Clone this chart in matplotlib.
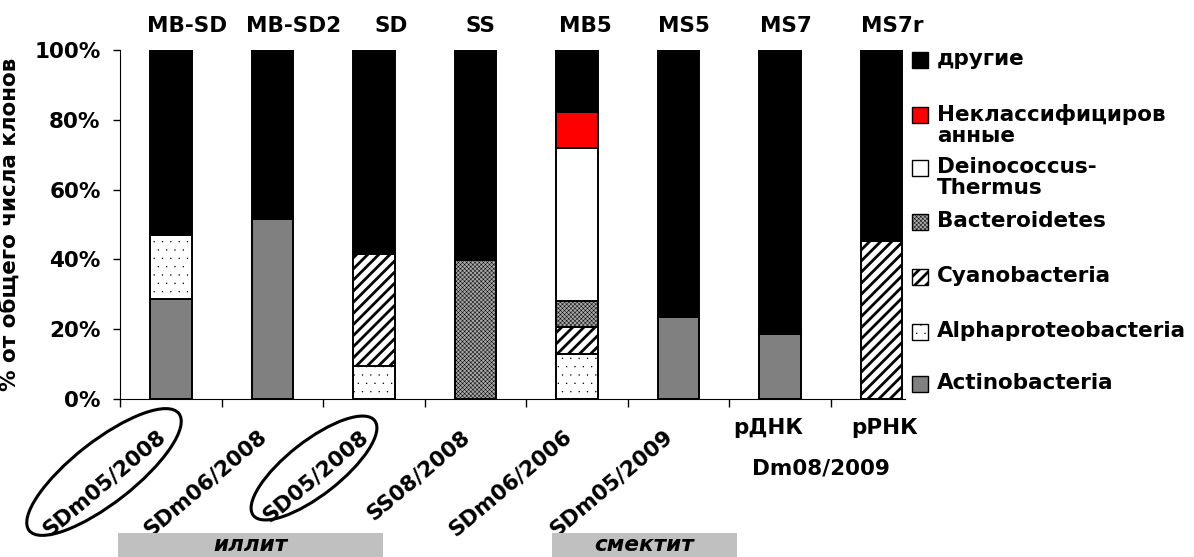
import numpy as np
import matplotlib
matplotlib.use('Agg')
import matplotlib.pyplot as plt
import matplotlib.hatch
from matplotlib.patches import Rectangle, Ellipse
from matplotlib.transforms import IdentityTransform, blended_transform_factory

# данные (% от общего числа клонов)
groups = ['MB-SD', 'MB-SD2', 'SD', 'SS', 'MB5', 'MS5', 'MS7', 'MS7r']
samples = ['SDm05/2008', 'SDm06/2008', 'SD05/2008', 'SS08/2008',
           'SDm06/2006', 'SDm05/2009', 'рДНК', 'рРНК']
actino = [28.7, 51.6, 0, 0, 0, 23.6, 18.5, 0]
alpha = [18.3, 0, 9.5, 0, 12.8, 0, 0, 0]
cyano = [0, 0, 32.0, 0, 7.7, 0, 0, 45.4]
bactero = [0, 0, 0, 39.8, 7.7, 0, 0, 0]
deino = [0, 0, 0, 0, 43.6, 0, 0, 0]
unclass = [0, 0, 0, 0, 10.3, 0, 0, 0]
others = [53.0, 48.4, 58.5, 60.2, 17.9, 76.4, 81.5, 54.6]

legend_names = ['другие', 'Неклассифициров\nанные', 'Deinococcus-\nThermus',
                'Bacteroidetes', 'Cyanobacteria', 'Alphaproteobacteria', 'Actinobacteria']

# мелкие точки, как в Excel
matplotlib.hatch.SmallFilledCircles.size = 0.035

plt.rcParams['font.family'] = 'DejaVu Sans'
plt.rcParams['font.weight'] = 'bold'
FS = 15.5

W, H = 1194, 557
fig = plt.figure(figsize=(W / 100, H / 100), dpi=100)
ax = fig.add_axes([120 / W, 1 - 399 / H, 785 / W, 349 / H])

x = np.arange(len(groups))
bw = 0.41
# (значения, заливка, штриховка, толщина штриховки)
series = [
    (actino, '#808080', None, 1.0),
    (alpha, 'white', '..', 0.6),
    (cyano, 'white', '///', 2.0),
    (bactero, '#a8a8a8', 'xxxxxxxx', 0.35),
    (deino, 'white', None, 1.0),
    (unclass, '#ff0000', None, 1.0),
    (others, 'black', None, 1.0),
]
bottom = np.zeros(len(groups))
handles = []
for vals, fc, hatch, hlw in series:
    with plt.rc_context({'hatch.linewidth': hlw}):
        ax.bar(x, vals, bw, bottom=bottom, color=fc, hatch=hatch,
               edgecolor='black', linewidth=1.4)
    handles.append((fc, hatch, hlw))
    bottom += np.array(vals)

ax.set_xlim(-0.5, 7.23)
ax.set_ylim(0, 100)
ax.set_yticks(np.arange(0, 101, 20))
ax.set_yticklabels([f'{v}%' for v in range(0, 101, 20)], fontsize=FS, fontweight='bold')
ax.tick_params(axis='y', length=5, width=1, pad=9)
ax.set_xticks(np.arange(-0.5, 7.5, 1))
ax.set_xticklabels([])
ax.tick_params(axis='x', length=6, width=1)
for s in ['top', 'right']:
    ax.spines[s].set_visible(False)
ax.set_ylabel('% от общего числа клонов', fontsize=FS, fontweight='bold')
ax.yaxis.set_label_coords(-0.127, 0.5)

tr = blended_transform_factory(ax.transData, ax.transAxes)

# подписи образцов сверху
top_off = [0.16, 0.21, 0.17, 0.05, 0.08, 0.05, 0.06, 0.10]
for i, g in enumerate(groups):
    ax.text(i + top_off[i], 1.07, g, transform=tr, ha='center', va='center',
            fontsize=FS, fontweight='bold', clip_on=False)

# подписи снизу
for i, s in enumerate(samples[:6]):
    ax.text(i - 0.08, -0.100, s, transform=tr, ha='right', va='center',
            rotation=40, rotation_mode='anchor', fontsize=FS, fontweight='bold')
ax.text(6 - 0.12, -0.083, samples[6], transform=tr, ha='center', va='center',
        fontsize=FS, fontweight='bold')
ax.text(7 + 0.03, -0.083, samples[7], transform=tr, ha='center', va='center',
        fontsize=FS, fontweight='bold')
ax.text(6.4, -0.198, 'Dm08/2009', transform=tr, ha='center', va='center',
        fontsize=FS, fontweight='bold')

# овалы
idt = IdentityTransform()
for cx, cy, w, h in [(104, 472, 190, 62), (314, 468, 154, 54)]:
    fig.add_artist(Ellipse((cx, H - cy), w, h, angle=38, transform=idt,
                           fill=False, edgecolor='black', linewidth=2.2))

# серые плашки
for x0, x1, txt in [(118, 383, 'иллит'), (552, 737, 'смектит')]:
    fig.add_artist(Rectangle((x0 / W, 0), (x1 - x0) / W, 24 / H,
                             transform=fig.transFigure, facecolor='#c0c0c0',
                             edgecolor='none'))
    fig.text((x0 + x1) / 2 / W, 1 - 545 / H, txt, ha='center', va='center',
             fontsize=FS, fontweight='bold', style='italic')

# легенда
leg_y = [60, 115, 168, 222, 277, 332, 384]
for name, (fc, hatch, hlw), y in zip(legend_names, handles[::-1], leg_y):
    with plt.rc_context({'hatch.linewidth': hlw}):
        fig.add_artist(Rectangle((912 / W, 1 - (y + 8) / H), 16 / W, 16 / H,
                                 transform=fig.transFigure, facecolor=fc,
                                 hatch=hatch, edgecolor='black', linewidth=1.0))
    fig.text(937 / W, 1 - (y - 11) / H, name, ha='left', va='top',
             fontsize=FS, fontweight='bold', linespacing=1.05)

fig.savefig('out.png', dpi=100)
